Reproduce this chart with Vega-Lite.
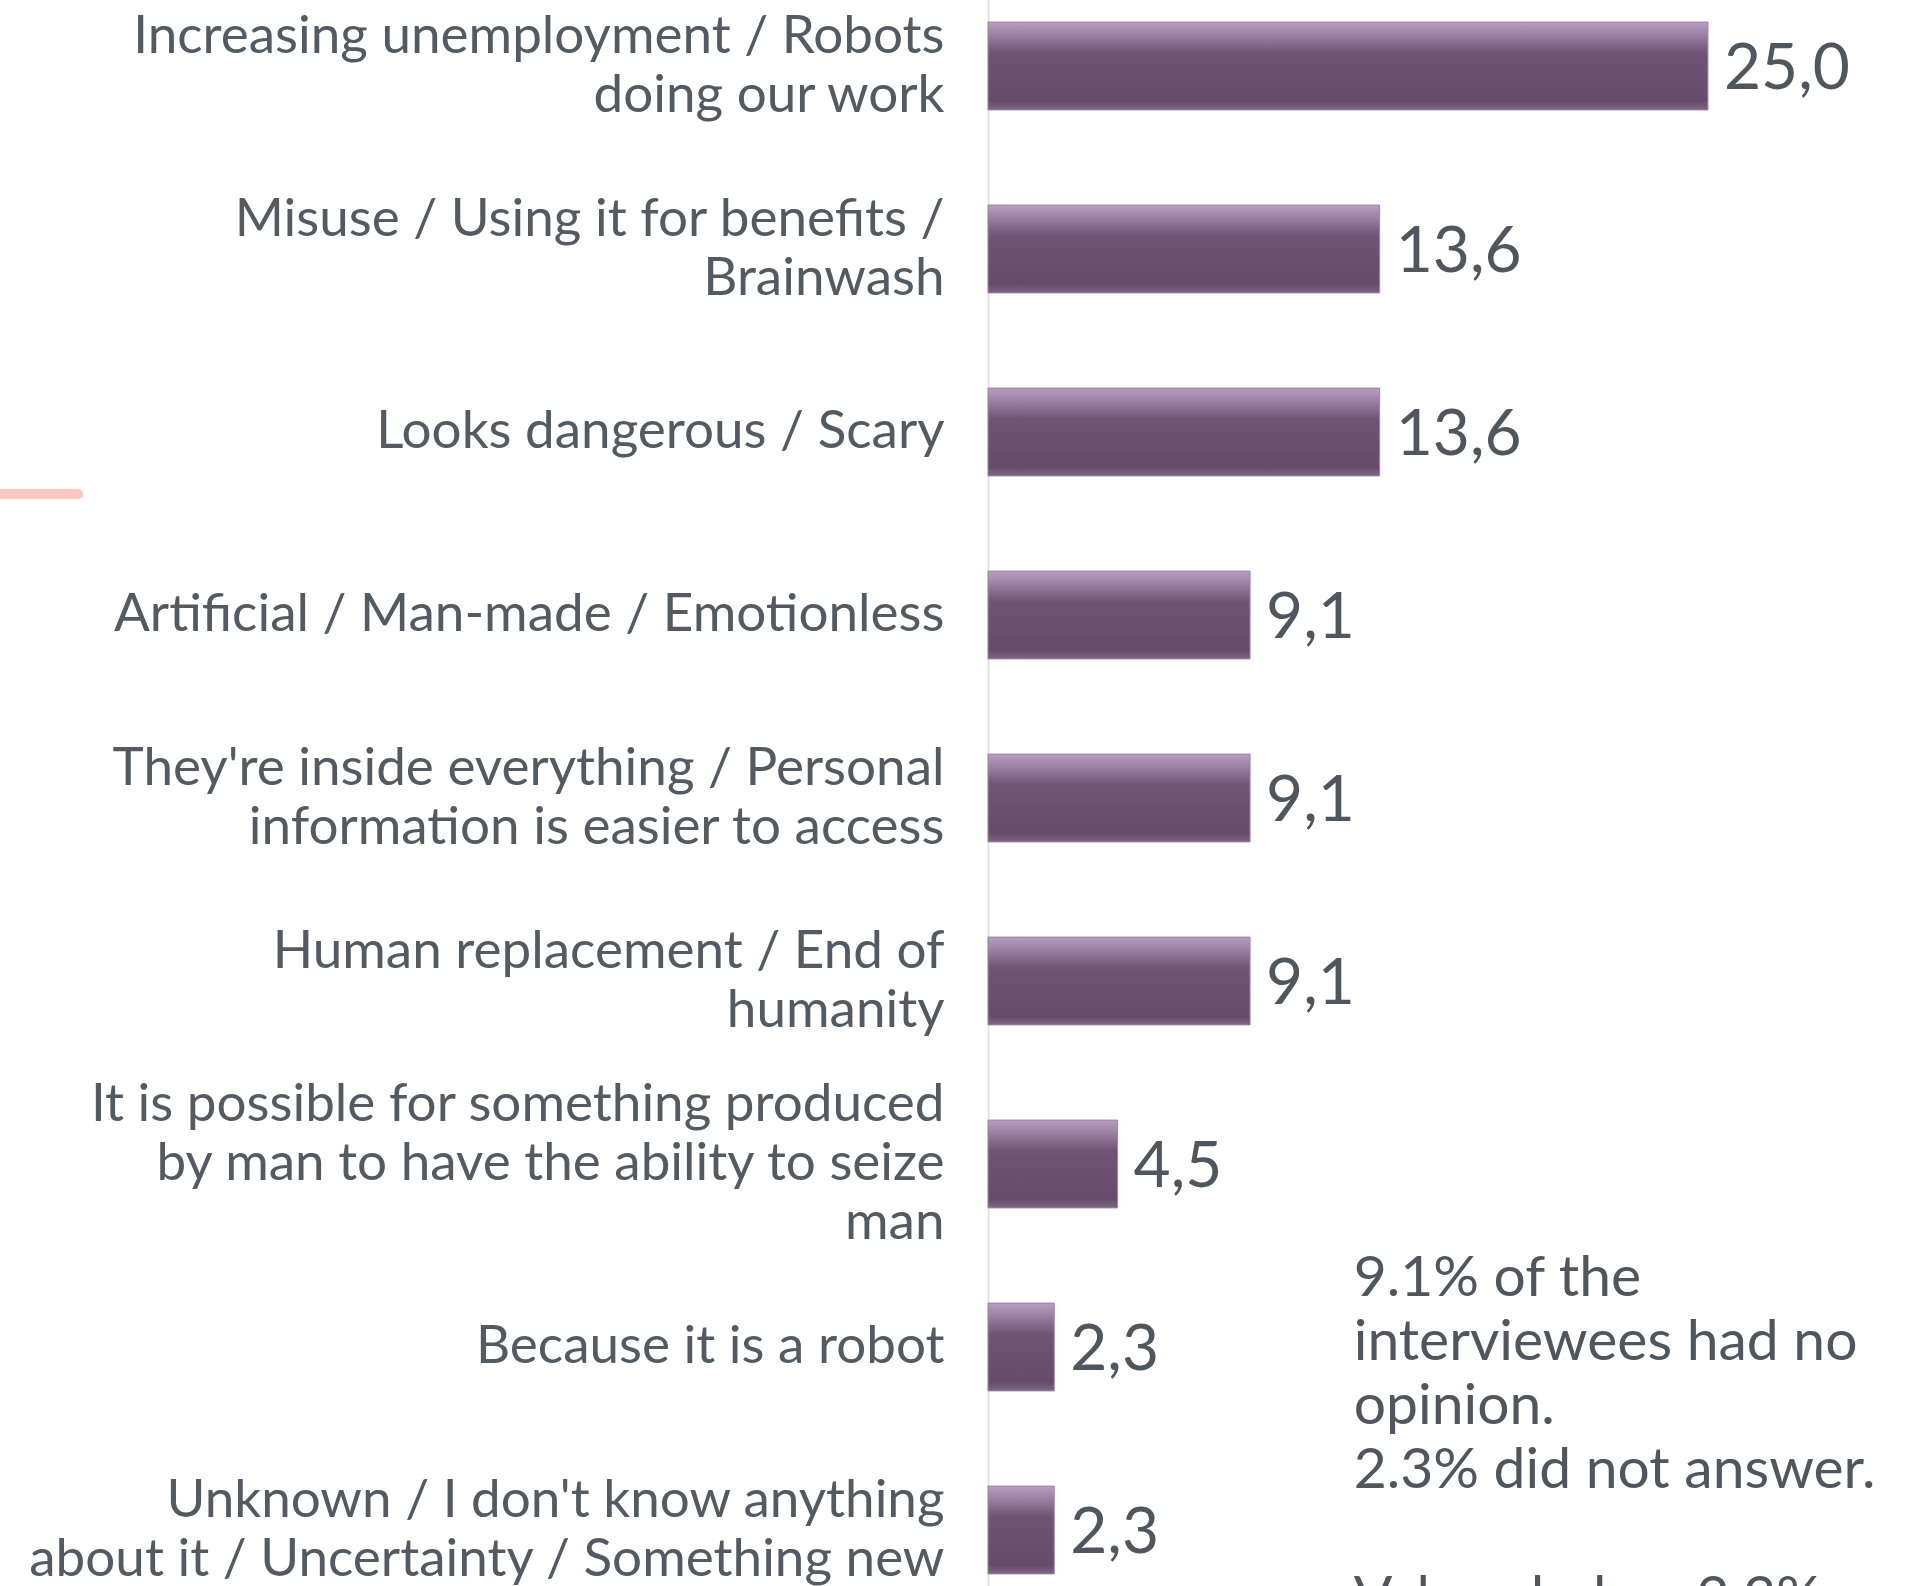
{
  "$schema": "https://vega.github.io/schema/vega-lite/v6.json",
  "width": 929,
  "height": 1586,
  "autosize": {"type": "none"},
  "padding": {"left": 988, "top": 0, "right": 0, "bottom": 0},
  "background": "white",
  "config": {
    "view": {"stroke": null},
    "locale": {"number": {"decimal": ",", "thousands": ".", "grouping": [3], "currency": ["", ""]}}
  },
  "data": {
    "values": [
      {"category": "Increasing unemployment / Robots\ndoing our work", "value": 25.0},
      {"category": "Misuse / Using it for benefits /\nBrainwash", "value": 13.6},
      {"category": "Looks dangerous / Scary", "value": 13.6},
      {"category": "Artificial / Man-made / Emotionless", "value": 9.1},
      {"category": "They're inside everything / Personal\ninformation is easier to access", "value": 9.1},
      {"category": "Human replacement / End of\nhumanity", "value": 9.1},
      {"category": "It is possible for something produced\nby man to have the ability to seize\nman", "value": 4.5},
      {"category": "Because it is a robot", "value": 2.3},
      {"category": "Unknown / I don't know anything\nabout it / Uncertainty / Something new", "value": 2.3}
    ]
  },
  "encoding": {
    "y": {
      "field": "category",
      "type": "nominal",
      "sort": null,
      "scale": {"range": [-25.5, 1621.5], "paddingInner": 0.52, "paddingOuter": 0.26},
      "axis": {
        "title": null,
        "ticks": false,
        "grid": false,
        "domain": true,
        "domainColor": "#e4e4e8",
        "domainWidth": 2,
        "labelExpr": "split(datum.label, '\\n')",
        "labelFont": "Lato",
        "labelFontWeight": 400,
        "labelFontSize": 53,
        "labelColor": "#545a62",
        "labelPadding": 44,
        "labelLineHeight": 59,
        "labelAlign": "right",
        "labelBaseline": "middle",
        "labelLimit": 1000,
        "labelOverlap": false,
        "labelOffset": {
          "condition": [
            {"test": "length(split(datum.value, '\\n')) == 3", "value": -59},
            {"test": "length(split(datum.value, '\\n')) == 2", "value": -29.5}
          ],
          "value": 0
        }
      }
    }
  },
  "layer": [
    {
      "mark": {
        "type": "bar",
        "stroke": "#9c84a4",
        "strokeWidth": 1,
        "fill": {
          "gradient": "linear",
          "x1": 0, "y1": 0, "x2": 0, "y2": 1,
          "stops": [
            {"offset": 0, "color": "#b69dc1"},
            {"offset": 0.08, "color": "#a98eb4"},
            {"offset": 0.35, "color": "#6f5477"},
            {"offset": 0.9, "color": "#654a6b"},
            {"offset": 1, "color": "#7f6586"}
          ]
        }
      },
      "encoding": {
        "x": {"field": "value", "type": "quantitative", "scale": {"domain": [0, 32.26], "nice": false, "zero": true}, "axis": null}
      }
    },
    {
      "mark": {"type": "text", "align": "left", "baseline": "middle", "dx": 16, "dy": 4, "font": "Lato", "fontWeight": 400, "fontSize": 64, "color": "#50565e"},
      "encoding": {
        "x": {"field": "value", "type": "quantitative"},
        "text": {"field": "value", "type": "quantitative", "format": ".1f"}
      }
    },
    {
      "transform": [{"filter": "datum.category == 'Because it is a robot'"}],
      "mark": {
        "type": "text",
        "align": "left",
        "baseline": "top",
        "dy": -96,
        "font": "Lato",
        "fontWeight": 400,
        "fontSize": 57,
        "lineHeight": 64,
        "color": "#50565e",
        "text": ["9.1% of the", "interviewees had no", "opinion.", "2.3% did not answer."]
      },
      "encoding": {
        "x": {"datum": 12.7}
      }
    },
    {
      "transform": [{"filter": "datum.category == 'Because it is a robot'"}],
      "mark": {
        "type": "text",
        "align": "left",
        "baseline": "top",
        "dy": 224,
        "font": "Lato",
        "fontWeight": 400,
        "fontSize": 57,
        "color": "#50565e",
        "text": "Values below 2.3% are not shown."
      },
      "encoding": {
        "x": {"datum": 12.7}
      }
    },
    {
      "transform": [{"filter": "datum.category == 'Looks dangerous / Scary'"}],
      "mark": {"type": "rule", "color": "#ffc9c1", "strokeWidth": 10, "strokeCap": "round"},
      "encoding": {
        "x": {"datum": -34.5},
        "x2": {"datum": -31.6},
        "yOffset": {"value": 106}
      }
    }
  ]
}
